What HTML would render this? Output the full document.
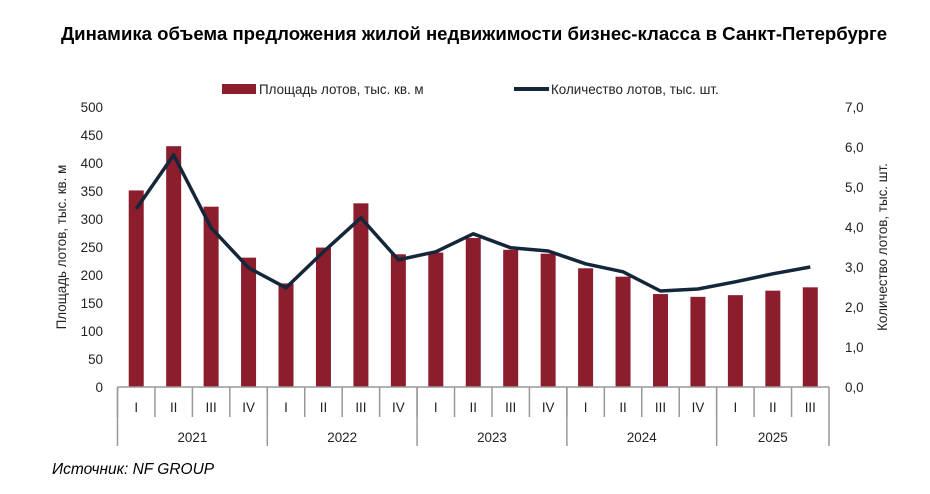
<!DOCTYPE html>
<html><head><meta charset="utf-8"><style>
body{margin:0;background:#fff;width:930px;height:489px;overflow:hidden;font-family:"Liberation Sans",sans-serif}
</style></head><body>
<svg id="c" width="930" height="489" font-family="'Liberation Sans', sans-serif">
<text x="474" y="40" text-anchor="middle" font-size="18.6" font-weight="bold" fill="#000">Динамика объема предложения жилой недвижимости бизнес-класса в Санкт-Петербурге</text>
<g>
<rect x="222" y="84" width="34" height="10" fill="#8b1d2c"/>
<text x="259" y="94" font-size="13.4" fill="#222">Площадь лотов, тыс. кв. м</text>
<line x1="514" y1="89" x2="549" y2="89" stroke="#14263a" stroke-width="4"/>
<text x="551" y="94" font-size="13.4" fill="#222">Количество лотов, тыс. шт.</text>
</g>
<text transform="translate(66,247) rotate(-90)" text-anchor="middle" font-size="13.4" fill="#222">Площадь лотов, тыс. кв. м</text>
<text transform="translate(887,247) rotate(-90)" text-anchor="middle" font-size="13.4" fill="#222">Количество лотов, тыс. шт.</text>
<text x="52" y="474" font-size="15.5" font-style="italic" fill="#000">Источник: NF GROUP</text>
<g id="g"></g>
</svg>
<script>
const quarters=["I","II","III","IV","I","II","III","IV","I","II","III","IV","I","II","III","IV","I","II","III"];
const years=["2021","2022","2023","2024","2025"];
const yearCounts=[4,4,4,4,3];
const areaValues=[351,430,322,231,185,249,328,237,240,266,245,238,212,197,166,161,164,172,178];
const lotValues=[4.45,5.8,3.98,2.98,2.48,3.38,4.23,3.18,3.38,3.83,3.48,3.4,3.08,2.88,2.4,2.45,2.63,2.83,3.0];
const leftTicks=[0,50,100,150,200,250,300,350,400,450,500];
const rightTicks=["0,0","1,0","2,0","3,0","4,0","5,0","6,0","7,0"];
const NS="http://www.w3.org/2000/svg";
const g=document.getElementById('g');
const X0=117.5,X1=829,Y0=387,Y1=107;
const cw=(X1-X0)/quarters.length;
const xc=i=>X0+cw*(i+0.5);
const yL=v=>Y0-(v/500)*(Y0-Y1);
const yR=v=>Y0-(v/7)*(Y0-Y1);
function mk(t,a){const e=document.createElementNS(NS,t);for(const k in a)e.setAttribute(k,a[k]);g.appendChild(e);return e;}
leftTicks.forEach(v=>{const t=mk('text',{x:103,y:yL(v)+5,'text-anchor':'end','font-size':13.4,fill:'#222'});t.textContent=v;

});
rightTicks.forEach((s,i)=>{const t=mk('text',{x:845,y:yR(i)+5,'font-size':13.4,fill:'#222'});t.textContent=s;

});
areaValues.forEach((v,i)=>{const r=mk('rect',{x:xc(i)-7.5,y:yL(v),width:15,height:Y0-yL(v),fill:'#8b1d2c'});

});
const p=mk('path',{d:lotValues.map((v,i)=>(i?'L':'M')+xc(i)+','+yR(v)).join(''),fill:'none',stroke:'#14263a','stroke-width':3.5,'stroke-linejoin':'round'});


const ax=mk('line',{x1:X0,y1:Y0,x2:X1,y2:Y0,stroke:'#999','stroke-width':1.5});


quarters.forEach((q,i)=>{const t=mk('text',{x:xc(i),y:412,'text-anchor':'middle','font-size':13.4,fill:'#222'});t.textContent=q;


const l=mk('line',{x1:X0+cw*i,y1:Y0,x2:X0+cw*i,y2:417,stroke:'#999','stroke-width':1.5});

});
let s=0;
years.forEach((y,k)=>{const a=X0+cw*s,b=X0+cw*(s+yearCounts[k]);
const t=mk('text',{x:(a+b)/2,y:442,'text-anchor':'middle','font-size':13.4,fill:'#222'});t.textContent=y;


const l=mk('line',{x1:a,y1:Y0,x2:a,y2:446,stroke:'#999','stroke-width':1.5});


s+=yearCounts[k];});
const le=mk('line',{x1:X1,y1:Y0,x2:X1,y2:446,stroke:'#999','stroke-width':1.5});


</script>
</body></html>
